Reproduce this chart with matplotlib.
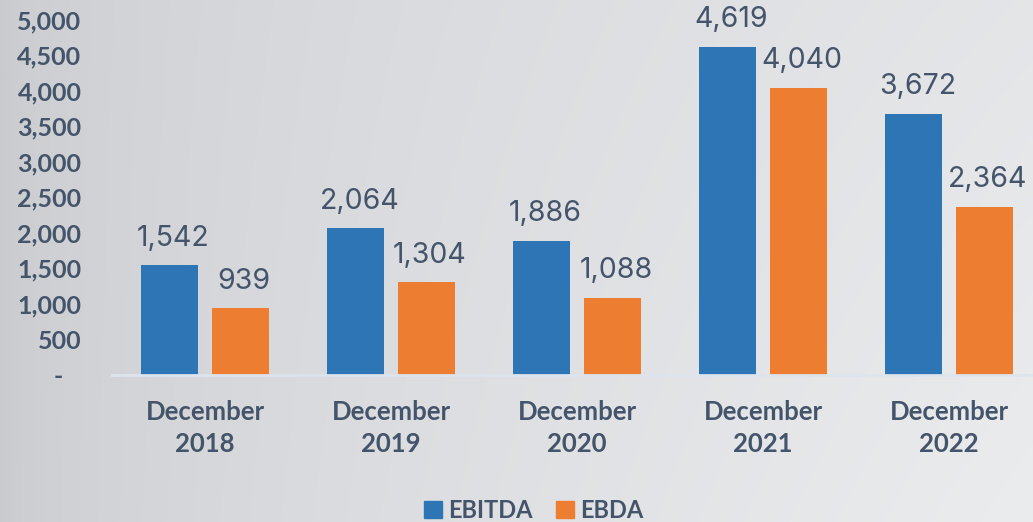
import numpy as np
import matplotlib
matplotlib.use("Agg")
import matplotlib.pyplot as plt
from matplotlib.patches import Rectangle

categories = ["December\n2018", "December\n2019", "December\n2020", "December\n2021", "December\n2022"]
ebitda = [1542, 2064, 1886, 4619, 3672]
ebda = [939, 1304, 1088, 4040, 2364]
yticks = [0, 500, 1000, 1500, 2000, 2500, 3000, 3500, 4000, 4500, 5000]
series_names = ["EBITDA", "EBDA"]

blue = "#2e75b6"
orange = "#ed7d31"
txt = "#44546a"
bold_family = "Lato"

W, H = 1033, 522
fig = plt.figure(figsize=(W / 100, H / 100), dpi=100)

# background gradient
bg = fig.add_axes([0, 0, 1, 1], zorder=-10)
xs = np.linspace(0, 1, 400)
ys = np.linspace(0, 1, 200)
X, Y = np.meshgrid(xs, ys)
t = np.clip(0.8 * X ** 0.5 + 0.2 * Y * X, 0, 1)
c0 = np.array([0xc8, 0xca, 0xce]) / 255
c1 = np.array([0xeb, 0xec, 0xee]) / 255
img = c0[None, None, :] * (1 - t[..., None]) + c1[None, None, :] * t[..., None]
bg.imshow(img, aspect="auto", extent=[0, 1, 0, 1], origin="upper")
bg.axis("off")

left = 112 / W
right = 1042 / W
bottom = (H - 375) / H
top = (H - 19.5) / H
ax = fig.add_axes([left, bottom, right - left, top - bottom])
ax.patch.set_alpha(0)

x = np.arange(len(categories))
bw = 0.307
off = 0.19
ax.bar(x - off, ebitda, bw, color=blue, zorder=3)
ax.bar(x + off, ebda, bw, color=orange, zorder=3)

lab_font = dict(fontsize=20.5, color=txt, family="Inter", ha="center", va="center")
for xi, v in zip(x, ebitda):
    ax.text(xi - off + 0.02, v + 380, f"{v:,}", clip_on=False, **lab_font)
for xi, v in zip(x, ebda):
    ax.text(xi + off + 0.02, v + 380, f"{v:,}", clip_on=False, **lab_font)

ax.set_xlim(-0.5, len(categories) - 0.5)
ax.set_ylim(0, 5000)
ax.set_yticks(yticks)
ax.set_yticklabels(["-   " if v == 0 else f"{v:,}" for v in yticks],
                   fontsize=18, fontweight="bold", color=txt, family=bold_family)
ax.set_xticks(x)
ax.set_xticklabels(categories, fontsize=18.5, fontweight="bold", color=txt,
                   family=bold_family, linespacing=1.42)
ax.tick_params(axis="both", length=0)
ax.tick_params(axis="y", pad=22)
ax.tick_params(axis="x", pad=18)
for s in ["top", "right", "left"]:
    ax.spines[s].set_visible(False)
ax.spines["bottom"].set_color("#dde4ec")
ax.spines["bottom"].set_linewidth(2)
ax.spines["bottom"].set_zorder(4)

handles = [Rectangle((0, 0), 1, 1, color=blue), Rectangle((0, 0), 1, 1, color=orange)]
leg = fig.legend(handles, series_names, loc="center", bbox_to_anchor=(534 / W, (H - 510) / H),
                 ncol=2, frameon=False, handlelength=0.76, handleheight=0.76,
                 handletextpad=0.25, columnspacing=1.0,
                 prop=dict(family=bold_family, weight="bold", size=17))
for t_ in leg.get_texts():
    t_.set_color(txt)

fig.savefig("out.png", dpi=100)
